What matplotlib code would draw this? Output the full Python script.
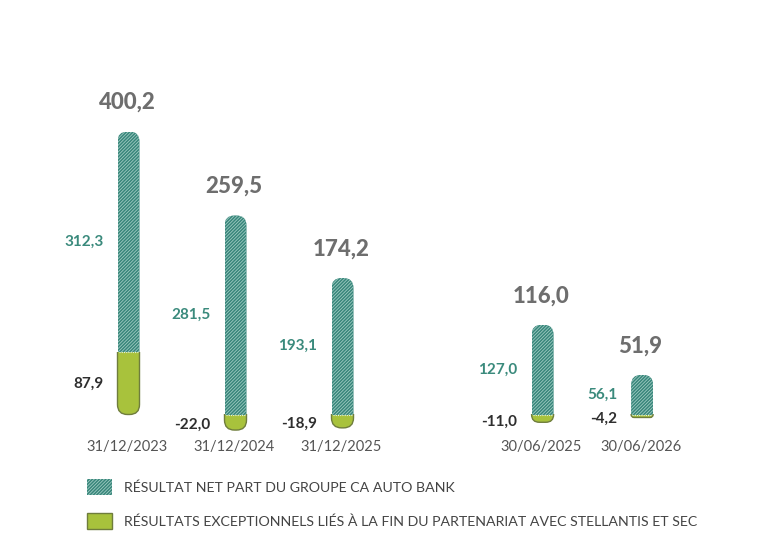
import matplotlib
matplotlib.use("Agg")
import matplotlib.pyplot as plt
from matplotlib.patches import FancyBboxPatch, Rectangle
import numpy as np

plt.rcParams['font.family'] = ['Lato', 'DejaVu Sans']
plt.rcParams['hatch.linewidth'] = 0.6

# ---- data ----
dates = ["31/12/2023", "31/12/2024", "31/12/2025", "30/06/2025", "30/06/2026"]
net_result = [312.3, 281.5, 193.1, 127.0, 56.1]
exceptional = [87.9, -22.0, -18.9, -11.0, -4.2]
totals = [400.2, 259.5, 174.2, 116.0, 51.9]
legend_labels = ["RÉSULTAT NET PART DU GROUPE CA AUTO BANK",
                 "RÉSULTATS EXCEPTIONNELS LIÉS À LA FIN DU PARTENARIAT AVEC STELLANTIS ET SEC"]

def fmt(v):
    return f"{v:.1f}".replace(".", ",")

# ---- style / layout ----
W, H, DPI = 778, 540, 100
TEAL = "#37857a"
TEAL_HATCH = "#9fcbc2"
GREEN = "#a8c23c"
GREEN_EDGE = "#6f7d3c"
GREY = "#6e6e6e"
TEAL_TXT = "#3a8a7c"
DARK = "#2e2e2e"
HATCH = "/" * 10

xpos = np.array([0.0, 1.0, 2.0, 3.87, 4.80])
px_x = 107.0           # pixels per x unit
px_y = 0.707           # pixels per y unit
x0_px, base_px = 128.5, 414.5  # pixel location (from top) of x=0, y=0
bar_w = 22.0 / px_x
r_px = 10.0

fig = plt.figure(figsize=(W / DPI, H / DPI), dpi=DPI)
ax = fig.add_axes([0, 0, 1, 1])
ax.set_xlim(-x0_px / px_x, (W - x0_px) / px_x)
ax.set_ylim(-(H - base_px) / px_y, base_px / px_y)
ax.axis("off")

aspect = (1 / px_y) / (1 / px_x)   # y units per x unit in display

def rounded(x, y0, y1, radius_px):
    rs = radius_px / px_x
    p = FancyBboxPatch((x - bar_w / 2, y0), bar_w, y1 - y0,
                       boxstyle=f"round,pad=0,rounding_size={rs}",
                       mutation_aspect=aspect, transform=ax.transData)
    return p

big = 60.0
teal_bottom = [e if e > 0 else 0 for e in exceptional]
teal_top = [b + n for b, n in zip(teal_bottom, net_result)]

teal_bars = ax.bar(xpos, net_result, width=bar_w, bottom=teal_bottom,
                   color=TEAL, edgecolor=TEAL_HATCH, linewidth=0,
                   hatch=HATCH, zorder=2)
green_bars = ax.bar(xpos, exceptional, width=bar_w, color=GREEN,
                    edgecolor="none", linewidth=0, zorder=3)

for i, (tb, tt) in enumerate(zip(teal_bottom, teal_top)):
    clip = rounded(xpos[i], tb - big, tt, r_px)
    teal_bars[i].set_clip_path(clip)

    e = exceptional[i]
    lo, hi = min(0, e), max(0, e)
    seg_px = (hi - lo) * px_y
    rr = min(r_px, seg_px)
    gclip = rounded(xpos[i], lo, hi + big, rr)
    green_bars[i].set_clip_path(gclip)
    outline = rounded(xpos[i], lo, hi + big, rr)
    outline.set_facecolor("none")
    outline.set_edgecolor(GREEN_EDGE)
    outline.set_linewidth(1.0)
    outline.set_zorder(4)
    ax.add_patch(outline)
    outline.set_clip_path(Rectangle((xpos[i] - bar_w, lo - 3), 2 * bar_w,
                                    hi - lo + 3.3, transform=ax.transData))
    ax.plot([xpos[i] - bar_w / 2 + 0.01, xpos[i] + bar_w / 2 - 0.01], [hi, hi],
            color="#dfeee9", lw=0.8, ls=(0, (1, 1)), zorder=5)

pt = 72.0 / DPI  # points per pixel
for i in range(len(xpos)):
    ax.annotate(fmt(totals[i]), (xpos[i], teal_top[i]),
                xytext=(-1.5 * pt, 29 * pt), textcoords="offset points",
                ha="center", va="center", fontsize=16, fontweight="black",
                color=GREY)
    mid = teal_bottom[i] + net_result[i] / 2
    ax.annotate(fmt(net_result[i]), (xpos[i] - bar_w / 2, mid),
                xytext=(-14 * pt, 0), textcoords="offset points",
                ha="right", va="center", fontsize=11, fontweight="bold",
                color=TEAL_TXT)
    e = exceptional[i]
    gm = e / 2
    dy = 0 if e > 0 else -3
    ax.annotate(fmt(e), (xpos[i] - bar_w / 2, gm),
                xytext=(-14 * pt, dy * pt), textcoords="offset points",
                ha="right", va="center", fontsize=11, fontweight="bold",
                color=DARK)
    ax.annotate(dates[i], (xpos[i], 0), xytext=(-1 * pt, -33 * pt),
                textcoords="offset points", ha="center", va="center",
                fontsize=10.5, color="#555555")

# ---- legend (manual) ----
def fig_rect(xp, yp_top, wp, hp, **kw):
    r = Rectangle((xp / W, 1 - (yp_top + hp) / H), wp / W, hp / H,
                  transform=fig.transFigure, **kw)
    fig.patches.append(r)

fig_rect(87, 479, 25, 16, facecolor=TEAL, edgecolor=TEAL_HATCH, linewidth=0,
         hatch=HATCH)
fig_rect(87, 513, 25, 16, facecolor=GREEN, edgecolor=GREEN_EDGE, linewidth=1.0)
fig.text(124 / W, 1 - 488 / H, legend_labels[0], ha="left", va="center",
         fontsize=10.2, color="#444444")
fig.text(124 / W, 1 - 522 / H, legend_labels[1], ha="left", va="center",
         fontsize=10.2, color="#444444")

fig.savefig("out.png", dpi=DPI)
